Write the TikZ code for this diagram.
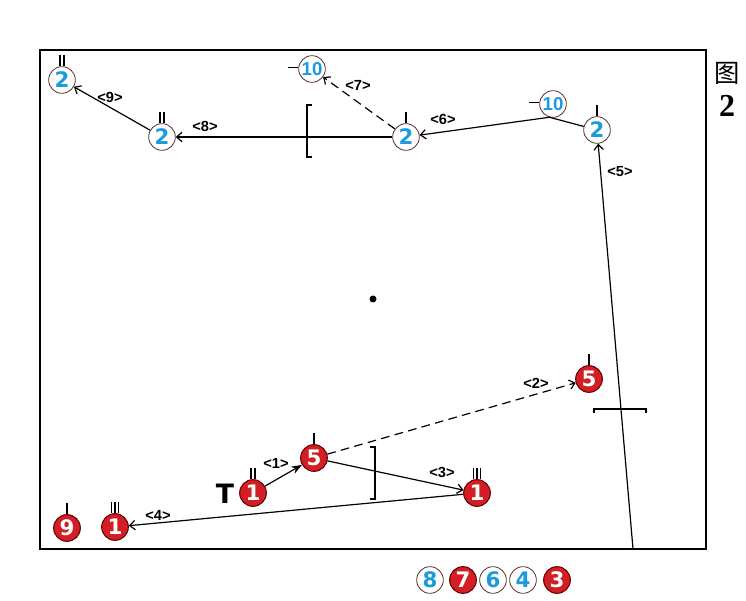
\documentclass[tikz,border=0pt]{standalone}
\usepackage{fontspec}
\setmainfont{Liberation Sans}
\newfontfamily\cjkfont{Noto Sans CJK SC}
\newfontfamily\serifnum{Liberation Serif}
\newfontfamily\heavynum{DejaVu Sans}
\usetikzlibrary{arrows.meta}
\definecolor{pblue}{RGB}{27,155,222}
\definecolor{pred}{RGB}{212,30,38}
\definecolor{prim}{RGB}{90,50,40}
\tikzset{
  bluedisc/.style={circle,draw=prim,line width=0.6pt,fill=white,text=pblue,inner sep=0pt,
    minimum size=20pt,font=\heavynum\bfseries\fontsize{16}{16}\selectfont},
  reddisc/.style={circle,draw=red!40!black,line width=0.8pt,fill=pred,text=white,inner sep=0pt,
    minimum size=20pt,font=\heavynum\bfseries\fontsize{16}{16}\selectfont},
  tennum/.style={font=\bfseries\fontsize{14}{14}\selectfont},
  lab/.style={font=\bfseries\fontsize{11}{11}\selectfont},
  mv/.style={line width=0.9pt,-{Straight Barb[length=4pt,width=7pt]}},
  pass/.style={mv,dash pattern=on 6.5pt off 4pt},
  tk/.style={line width=0.8pt}
}
\begin{document}
\begin{tikzpicture}[x=0.75pt,y=0.75pt,>=stealth]
\useasboundingbox (0,0) rectangle (746,600);
\draw[line width=2.2pt] (40,51) rectangle (706,550);
\fill (373,301) circle (3.5);

% attacking team
\node[reddisc] (r1a) at (253,107) {1};
\node[reddisc] (r5a) at (314,142) {5};
\node[reddisc] (r1b) at (477,107) {1};
\node[reddisc] (r5b) at (589,221) {5};
\node[reddisc] (r9) at (67,72) {9};
\node[reddisc] (r1c) at (115,73) {1};
\node[font=\heavynum\bfseries\fontsize{20}{20}\selectfont] (tsym) at (225,106) {T};

% defending team
\node[bluedisc] (b2a) at (62,520) {2};
\node[bluedisc] (b2b) at (162,463) {2};
\node[bluedisc,tennum] (b10a) at (312,531) {10};
\node[bluedisc] (b2c) at (406,463) {2};
\node[bluedisc,tennum] (b10b) at (553,496) {10};
\node[bluedisc] (b2d) at (597,470) {2};

% legend
\node[bluedisc] (l8) at (430,20) {8};
\node[reddisc] (l7) at (463,20) {7};
\node[bluedisc] (l6) at (493,20) {6};
\node[bluedisc] (l4) at (523,20) {4};
\node[reddisc] (l3) at (557,20) {3};

\node[font=\cjkfont\fontsize{19}{19}\selectfont] (fig) at (727,527) {图};
\node[font=\serifnum\bfseries\fontsize{24}{24}\selectfont] (fignum) at (727,494) {2};

% marks
\draw[tk] (r9.north) -- ++(0,11);
\draw[tk] (r5a.north) -- ++(0,11);
\draw[tk] (r5b.north) -- ++(0,11);
\draw[tk] (b2c.north) -- ++(0,11);
\draw[tk] (b2d.north) -- ++(0,11);
\draw[tk] ([xshift=-1.5pt]r1a.north) -- ++(0,11);
\draw[tk] ([xshift=1.5pt]r1a.north) -- ++(0,11);
\draw[tk] ([xshift=-1.5pt]b2a.north) -- ++(0,11);
\draw[tk] ([xshift=1.5pt]b2a.north) -- ++(0,11);
\draw[tk] ([xshift=-1.5pt]b2b.north) -- ++(0,11);
\draw[tk] ([xshift=1.5pt]b2b.north) -- ++(0,11);
\draw[tk] ([xshift=-2.5pt]r1b.north) -- ++(0,11);
\draw[tk] (r1b.north) -- ++(0,11);
\draw[tk] ([xshift=2.5pt]r1b.north) -- ++(0,11);
\draw[tk] ([xshift=-2.5pt]r1c.north) -- ++(0,11);
\draw[tk] (r1c.north) -- ++(0,11);
\draw[tk] ([xshift=2.5pt]r1c.north) -- ++(0,11);
\draw[tk] ([yshift=1pt]b10a.west) -- ++(-10,0);
\draw[tk] ([yshift=1pt]b10b.west) -- ++(-10,0);

% brackets
\draw[tk] (312,495) -- (307,495) -- (307,443) -- (312,443);
\draw[tk] (370,153) -- (375,153) -- (375,101) -- (370,101);
\draw[tk] (594,187) -- (594,191) -- (646,191) -- (646,187);

% moves
\coordinate (s5) at (633,51);
\draw[line width=0.9pt,-{Stealth[length=8pt,width=6pt]}] (r1a) -- (r5a);
\draw[pass] (r5a) -- (r5b);
\draw[mv] (r5a) -- (r1b);
\draw[mv] (r1b) -- (r1c);
\draw[mv] (s5) -- (b2d);
\draw[mv] (b2d) -- (b10b.255) -- (b2c);
\draw[pass] (b2c) -- (b10a);
\draw[mv] (b2c) -- (b2b);
\draw[mv] (b2b) -- (b2a);

\node[lab] (n1) at (276,137) {<1>};
\node[lab] (n2) at (536,217) {<2>};
\node[lab] (n3) at (442,128) {<3>};
\node[lab] (n4) at (158,85) {<4>};
\node[lab] (n5) at (620,428) {<5>};
\node[lab] (n6) at (443,481) {<6>};
\node[lab] (n7) at (358,515) {<7>};
\node[lab] (n8) at (205,474) {<8>};
\node[lab] (n9) at (110,503) {<9>};
\end{tikzpicture}
\end{document}
